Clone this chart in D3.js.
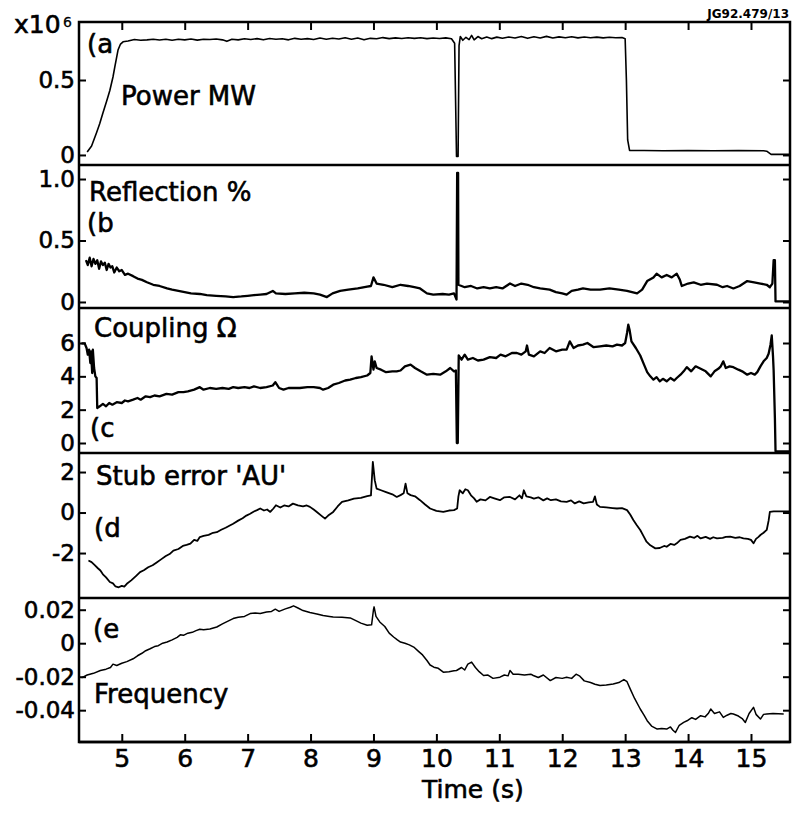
<!DOCTYPE html>
<html lang="en">
<head>
  <meta charset="UTF-8">
  <title>rf traces</title>
  <script src="https://d3js.org/d3.v7.min.js" charset="utf-8"></script>
  <style>
    body { margin: 0; background: #fff; }
    text { font-family: "DejaVu Sans", sans-serif; fill: #000; }
  </style>
</head>
<body>
</body>
<script>
  // time axis
  let timeDomain = [4.32, 15.62]
  let xTicks = [5, 6, 7, 8, 9, 10, 11, 12, 13, 14, 15]

  // (a) power, units of 1e6
  let powerData = [[4.45,0.02],[4.52,0.06],[4.60,0.15],[4.65,0.21],[4.70,0.28],[4.76,0.36],[4.81,0.43],[4.86,0.52],[4.89,0.59],[4.94,0.70],[4.98,0.74],[5.02,0.755],[5.1,0.76],[5.2,0.77],[5.3,0.765],[5.4,0.768],[5.5,0.772],[5.6,0.767],[5.7,0.772],[5.8,0.765],[5.9,0.772],[6.0,0.768],[6.1,0.774],[6.2,0.766],[6.3,0.772],[6.4,0.77],[6.5,0.774],[6.6,0.768],[6.67,0.758],[6.75,0.772],[6.85,0.768],[6.95,0.775],[7.05,0.77],[7.15,0.776],[7.25,0.768],[7.35,0.777],[7.45,0.772],[7.55,0.775],[7.65,0.768],[7.75,0.778],[7.85,0.772],[7.95,0.776],[8.05,0.77],[8.15,0.78],[8.25,0.772],[8.35,0.779],[8.45,0.774],[8.55,0.782],[8.65,0.772],[8.75,0.78],[8.85,0.768],[8.95,0.778],[9.05,0.775],[9.15,0.783],[9.25,0.776],[9.35,0.781],[9.45,0.777],[9.55,0.782],[9.65,0.778],[9.75,0.782],[9.85,0.776],[9.95,0.78],[10.05,0.777],[10.15,0.781],[10.24,0.775],[10.29,0.745],[10.32,-0.01],[10.345,-0.01],[10.36,0.73],[10.38,0.79],[10.42,0.765],[10.47,0.785],[10.52,0.77],[10.56,0.798],[10.6,0.768],[10.66,0.79],[10.72,0.775],[10.8,0.787],[10.88,0.776],[10.96,0.786],[11.05,0.779],[11.15,0.787],[11.25,0.78],[11.35,0.79],[11.45,0.778],[11.55,0.789],[11.65,0.78],[11.75,0.791],[11.85,0.78],[11.95,0.788],[12.05,0.782],[12.15,0.789],[12.25,0.781],[12.35,0.787],[12.45,0.782],[12.55,0.786],[12.65,0.781],[12.75,0.785],[12.85,0.782],[12.95,0.783],[13.0,0.775],[13.02,0.5],[13.04,0.1],[13.07,0.03],[13.3,0.03],[13.6,0.028],[14.0,0.03],[14.4,0.028],[14.8,0.029],[15.2,0.028],[15.25,0.025],[15.32,0.004],[15.62,0.004]]

  // (b) reflection %
  let reflectionData = [[4.43,0.34],[4.46,0.30],[4.49,0.36],[4.52,0.29],[4.55,0.35],[4.58,0.31],[4.61,0.34],[4.64,0.27],[4.67,0.33],[4.70,0.30],[4.73,0.32],[4.76,0.26],[4.79,0.31],[4.82,0.28],[4.85,0.29],[4.88,0.24],[4.92,0.28],[4.96,0.25],[5.0,0.26],[5.05,0.22],[5.1,0.23],[5.18,0.21],[5.25,0.19],[5.32,0.18],[5.4,0.16],[5.5,0.14],[5.6,0.13],[5.72,0.11],[5.8,0.10],[5.9,0.09],[6.0,0.08],[6.1,0.07],[6.24,0.065],[6.35,0.055],[6.5,0.05],[6.65,0.045],[6.77,0.04],[6.9,0.045],[7.0,0.05],[7.1,0.055],[7.2,0.06],[7.3,0.065],[7.4,0.09],[7.45,0.07],[7.6,0.065],[7.75,0.07],[7.9,0.075],[8.05,0.07],[8.15,0.06],[8.26,0.04],[8.35,0.07],[8.47,0.09],[8.6,0.1],[8.75,0.11],[8.9,0.125],[8.96,0.13],[9.0,0.2],[9.05,0.15],[9.16,0.14],[9.3,0.12],[9.43,0.14],[9.55,0.13],[9.65,0.12],[9.74,0.11],[9.85,0.07],[9.95,0.06],[10.1,0.065],[10.2,0.06],[10.28,0.07],[10.32,0.02],[10.33,1.05],[10.345,1.05],[10.35,0.14],[10.45,0.12],[10.55,0.13],[10.65,0.11],[10.75,0.12],[10.85,0.11],[10.95,0.12],[11.05,0.11],[11.17,0.15],[11.25,0.13],[11.35,0.15],[11.45,0.14],[11.55,0.12],[11.65,0.11],[11.8,0.1],[11.9,0.08],[12.0,0.07],[12.07,0.06],[12.15,0.09],[12.25,0.1],[12.33,0.11],[12.45,0.1],[12.6,0.1],[12.75,0.11],[12.9,0.1],[13.03,0.09],[13.19,0.07],[13.27,0.1],[13.35,0.17],[13.45,0.2],[13.5,0.23],[13.58,0.2],[13.66,0.22],[13.74,0.2],[13.82,0.23],[13.87,0.18],[13.9,0.13],[14.0,0.15],[14.09,0.16],[14.2,0.14],[14.3,0.15],[14.46,0.14],[14.55,0.12],[14.62,0.13],[14.72,0.11],[14.82,0.13],[14.94,0.17],[15.05,0.16],[15.15,0.15],[15.25,0.14],[15.3,0.12],[15.34,0.15],[15.36,0.34],[15.38,0.34],[15.39,0.005],[15.62,0.005]]

  // (c) coupling ohm
  let couplingData = [[4.36,5.98],[4.41,5.98],[4.44,5.7],[4.46,5.3],[4.48,5.6],[4.5,4.8],[4.51,5.5],[4.53,4.2],[4.54,5.6],[4.56,4.5],[4.58,4.0],[4.6,3.9],[4.61,2.1],[4.65,2.2],[4.7,2.35],[4.75,2.2],[4.8,2.4],[4.85,2.3],[4.92,2.45],[5.0,2.4],[5.05,2.55],[5.1,2.5],[5.18,2.6],[5.25,2.7],[5.3,2.6],[5.38,2.8],[5.45,2.75],[5.52,2.85],[5.6,2.8],[5.71,2.95],[5.8,2.9],[5.9,3.05],[5.98,3.05],[6.05,3.1],[6.15,3.2],[6.24,3.35],[6.3,3.2],[6.4,3.3],[6.5,3.25],[6.6,3.3],[6.7,3.25],[6.77,3.35],[6.85,3.3],[6.95,3.35],[7.03,3.3],[7.1,3.4],[7.2,3.3],[7.3,3.35],[7.4,3.45],[7.44,3.65],[7.5,3.3],[7.57,3.2],[7.65,3.3],[7.75,3.3],[7.83,3.3],[7.95,3.35],[8.05,3.35],[8.15,3.3],[8.2,3.2],[8.28,3.3],[8.36,3.5],[8.45,3.6],[8.55,3.75],[8.63,3.8],[8.72,3.9],[8.8,3.95],[8.9,4.05],[8.95,4.2],[8.97,5.2],[9.0,4.4],[9.02,4.9],[9.05,4.5],[9.12,4.4],[9.2,4.25],[9.3,4.3],[9.37,4.3],[9.43,4.35],[9.5,4.6],[9.59,4.7],[9.66,4.5],[9.75,4.3],[9.85,4.1],[9.95,4.15],[10.06,4.1],[10.15,4.3],[10.22,4.5],[10.28,4.3],[10.31,4.35],[10.325,0.0],[10.34,0.0],[10.355,5.25],[10.4,5.0],[10.45,5.3],[10.5,5.0],[10.58,5.1],[10.66,4.95],[10.75,5.0],[10.85,5.15],[10.95,5.1],[11.02,5.3],[11.1,5.2],[11.2,5.4],[11.28,5.4],[11.35,5.3],[11.42,5.5],[11.44,5.85],[11.47,5.3],[11.55,5.2],[11.65,5.5],[11.72,5.4],[11.8,5.7],[11.9,5.5],[12.0,5.6],[12.07,5.6],[12.12,6.1],[12.18,5.7],[12.25,5.85],[12.33,5.9],[12.4,6.0],[12.5,5.75],[12.6,5.8],[12.7,5.85],[12.8,5.8],[12.87,5.9],[12.95,5.85],[13.0,6.0],[13.03,6.6],[13.05,7.1],[13.07,6.8],[13.1,6.1],[13.17,5.7],[13.24,5.25],[13.3,4.7],[13.35,4.25],[13.4,4.0],[13.45,3.8],[13.5,3.95],[13.55,3.7],[13.6,3.85],[13.66,3.7],[13.72,3.9],[13.78,3.75],[13.82,3.9],[13.88,4.1],[13.93,4.3],[13.98,4.55],[14.05,4.3],[14.12,4.6],[14.2,4.45],[14.28,4.3],[14.36,4.0],[14.42,4.3],[14.48,4.45],[14.52,4.6],[14.56,4.9],[14.6,4.5],[14.66,4.6],[14.72,4.55],[14.8,4.4],[14.86,4.3],[14.94,4.1],[15.0,4.2],[15.06,4.1],[15.1,4.25],[15.15,4.6],[15.2,4.9],[15.25,5.1],[15.28,5.35],[15.31,5.9],[15.33,6.45],[15.35,5.2],[15.36,4.35],[15.38,1.5],[15.39,-0.5],[15.62,-0.5]]

  // (d) stub error
  let stubData = [[4.47,-2.37],[4.52,-2.45],[4.57,-2.6],[4.62,-2.75],[4.66,-2.86],[4.7,-3.05],[4.75,-3.2],[4.81,-3.43],[4.86,-3.5],[4.9,-3.65],[4.95,-3.69],[5.0,-3.62],[5.04,-3.66],[5.08,-3.52],[5.15,-3.35],[5.22,-3.15],[5.29,-2.94],[5.35,-2.85],[5.42,-2.7],[5.49,-2.6],[5.56,-2.45],[5.63,-2.3],[5.7,-2.15],[5.76,-2.05],[5.82,-1.88],[5.9,-1.8],[5.97,-1.65],[6.03,-1.6],[6.09,-1.54],[6.15,-1.35],[6.2,-1.4],[6.24,-1.21],[6.3,-1.15],[6.38,-1.1],[6.45,-1.0],[6.51,-0.97],[6.58,-0.85],[6.65,-0.75],[6.71,-0.65],[6.77,-0.55],[6.85,-0.4],[6.92,-0.28],[6.98,-0.15],[7.04,-0.06],[7.1,0.05],[7.15,0.12],[7.2,0.2],[7.26,0.1],[7.31,0.15],[7.36,0.03],[7.41,0.2],[7.45,0.36],[7.52,0.25],[7.58,0.35],[7.65,0.3],[7.72,0.44],[7.8,0.35],[7.88,0.3],[7.94,0.35],[7.99,0.28],[8.05,0.15],[8.1,0.03],[8.17,-0.15],[8.23,-0.3],[8.28,-0.15],[8.36,0.03],[8.43,0.3],[8.5,0.53],[8.6,0.6],[8.69,0.69],[8.8,0.72],[8.9,0.81],[8.96,0.85],[8.99,2.5],[9.02,1.6],[9.05,1.18],[9.12,1.1],[9.2,1.01],[9.3,0.9],[9.37,0.77],[9.43,0.86],[9.48,0.95],[9.51,1.43],[9.54,0.95],[9.59,0.86],[9.66,0.8],[9.74,0.61],[9.82,0.4],[9.9,0.2],[10.0,0.08],[10.11,0.03],[10.2,0.1],[10.28,0.12],[10.33,0.2],[10.35,0.8],[10.37,1.1],[10.42,0.95],[10.46,1.15],[10.5,1.1],[10.55,0.85],[10.6,0.7],[10.64,0.53],[10.7,0.65],[10.78,0.6],[10.85,0.77],[10.92,0.7],[11.01,0.61],[11.08,0.75],[11.17,0.77],[11.25,0.65],[11.32,0.85],[11.36,0.7],[11.39,1.1],[11.43,0.8],[11.5,0.75],[11.55,0.69],[11.62,0.75],[11.7,0.6],[11.76,0.7],[11.82,0.61],[11.9,0.65],[11.98,0.55],[12.07,0.53],[12.14,0.6],[12.2,0.45],[12.27,0.55],[12.34,0.45],[12.42,0.5],[12.49,0.53],[12.52,0.8],[12.55,0.4],[12.6,0.28],[12.7,0.25],[12.8,0.22],[12.87,0.2],[12.95,0.22],[13.03,0.12],[13.08,-0.1],[13.13,-0.37],[13.18,-0.6],[13.24,-0.86],[13.29,-1.15],[13.34,-1.44],[13.4,-1.62],[13.48,-1.77],[13.55,-1.75],[13.62,-1.65],[13.66,-1.69],[13.72,-1.55],[13.78,-1.6],[13.82,-1.52],[13.88,-1.35],[13.95,-1.3],[14.03,-1.19],[14.1,-1.25],[14.15,-1.15],[14.2,-1.28],[14.28,-1.2],[14.35,-1.3],[14.4,-1.22],[14.46,-1.28],[14.55,-1.25],[14.6,-1.2],[14.67,-1.19],[14.75,-1.25],[14.82,-1.22],[14.88,-1.28],[14.95,-1.3],[15.0,-1.35],[15.04,-1.52],[15.08,-1.3],[15.12,-1.2],[15.15,-1.11],[15.2,-1.0],[15.25,-0.86],[15.28,-0.4],[15.3,0.03],[15.36,0.06],[15.62,0.06]]

  // (e) frequency
  let freqData = [[4.36,-0.0207],[4.45,-0.019],[4.55,-0.018],[4.66,-0.0163],[4.75,-0.0155],[4.82,-0.0145],[4.86,-0.0125],[4.92,-0.0133],[5.0,-0.012],[5.08,-0.011],[5.18,-0.0093],[5.25,-0.0075],[5.32,-0.006],[5.38,-0.0045],[5.45,-0.0033],[5.52,-0.002],[5.58,-0.0015],[5.65,0.0],[5.72,0.0007],[5.8,0.002],[5.88,0.0035],[5.93,0.005],[5.98,0.0047],[6.05,0.006],[6.12,0.0065],[6.18,0.0075],[6.24,0.0083],[6.3,0.008],[6.4,0.0085],[6.51,0.0097],[6.6,0.0115],[6.68,0.013],[6.77,0.0147],[6.85,0.0155],[6.95,0.016],[7.04,0.0177],[7.12,0.018],[7.2,0.0178],[7.3,0.0187],[7.38,0.019],[7.44,0.0203],[7.5,0.019],[7.6,0.0205],[7.68,0.0215],[7.73,0.0223],[7.8,0.021],[7.88,0.0195],[7.99,0.0183],[8.1,0.0175],[8.2,0.0165],[8.3,0.016],[8.36,0.0157],[8.5,0.0155],[8.63,0.0151],[8.72,0.0135],[8.8,0.012],[8.9,0.0107],[8.97,0.011],[9.0,0.02],[9.01,0.0217],[9.04,0.016],[9.1,0.0127],[9.18,0.01],[9.25,0.006],[9.32,0.0037],[9.38,0.002],[9.43,0.0007],[9.5,0.0],[9.57,-0.001],[9.64,-0.0023],[9.72,-0.005],[9.78,-0.007],[9.85,-0.0103],[9.9,-0.013],[9.96,-0.0143],[10.03,-0.015],[10.11,-0.0173],[10.2,-0.017],[10.28,-0.0165],[10.32,-0.0163],[10.4,-0.0145],[10.45,-0.016],[10.5,-0.0125],[10.56,-0.0113],[10.62,-0.0145],[10.68,-0.017],[10.75,-0.0193],[10.82,-0.019],[10.9,-0.021],[11.01,-0.0203],[11.08,-0.019],[11.14,-0.0195],[11.17,-0.0163],[11.22,-0.0185],[11.3,-0.0185],[11.4,-0.019],[11.5,-0.0185],[11.54,-0.0193],[11.62,-0.0205],[11.7,-0.019],[11.81,-0.0223],[11.9,-0.0205],[12.0,-0.021],[12.07,-0.0203],[12.15,-0.021],[12.22,-0.0185],[12.28,-0.0197],[12.35,-0.0225],[12.45,-0.0235],[12.52,-0.0245],[12.6,-0.0253],[12.7,-0.025],[12.81,-0.0243],[12.9,-0.0235],[12.98,-0.0217],[13.03,-0.023],[13.08,-0.0273],[13.15,-0.033],[13.24,-0.0393],[13.3,-0.043],[13.35,-0.0463],[13.42,-0.0495],[13.51,-0.0513],[13.58,-0.051],[13.66,-0.0513],[13.72,-0.05],[13.76,-0.052],[13.8,-0.0533],[13.86,-0.049],[13.93,-0.0473],[14.0,-0.046],[14.06,-0.0445],[14.12,-0.0455],[14.2,-0.0433],[14.27,-0.044],[14.32,-0.042],[14.36,-0.0393],[14.42,-0.042],[14.5,-0.041],[14.56,-0.0443],[14.62,-0.043],[14.68,-0.042],[14.72,-0.0423],[14.8,-0.0435],[14.86,-0.045],[14.91,-0.0473],[14.97,-0.042],[15.04,-0.0383],[15.08,-0.0425],[15.15,-0.0453],[15.2,-0.0425],[15.25,-0.0423],[15.35,-0.042],[15.52,-0.0423]]

  // y tick values and their printed labels
  let powerTicks = [0, 0.5], powerLabels = ['0', '0.5']
  let reflTicks = [0, 0.5, 1.0], reflLabels = ['0', '0.5', '1.0']
  let coupTicks = [0, 2, 4, 6], coupLabels = ['0', '2', '4', '6']
  let stubTicks = [-2, 0, 2], stubLabels = ['-2', '0', '2']
  let freqTicks = [-0.04, -0.02, 0, 0.02], freqLabels = ['-0.04', '-0.02', '0', '0.02']

  var left = 79, right = 790
  var panels = [
    {data: powerData, top: 22, bottom: 165, domain: [-0.067, 0.887], ticks: powerTicks, labels: powerLabels, sw: 1.6},
    {data: reflectionData, top: 165, bottom: 308, domain: [-0.049, 1.114], ticks: reflTicks, labels: reflLabels, sw: 2.3},
    {data: couplingData, top: 308, bottom: 453, domain: [-0.6, 8.1], ticks: coupTicks, labels: coupLabels, sw: 2.3},
    {data: stubData, top: 453, bottom: 598, domain: [-4.22, 2.94], ticks: stubTicks, labels: stubLabels, sw: 1.8},
    {data: freqData, top: 598, bottom: 742, domain: [-0.059, 0.027], ticks: freqTicks, labels: freqLabels, sw: 1.5}
  ]

  var svg = d3.select('body').append('svg').attr('width', 792).attr('height', 814)
  svg.append('rect').attr('width', 792).attr('height', 814).attr('fill', '#fff')

  var x = d3.scaleLinear().domain(timeDomain).range([left, right])

  function styleAxis(g, size) {
    g.select('.domain').remove()
    g.selectAll('line').attr('stroke', '#000').attr('stroke-width', 2)
    g.selectAll('text').attr('font-size', size).attr('font-family', '"DejaVu Sans", sans-serif')
      .attr('fill', '#000').attr('stroke', '#000').attr('stroke-width', 0.6)
  }

  panels.forEach(function(p) {
    var y = d3.scaleLinear().domain(p.domain).range([p.bottom, p.top])
    svg.append('g').attr('transform', 'translate(' + left + ',0)')
      .call(d3.axisLeft(y).tickValues(p.ticks).tickFormat((d, i) => p.labels[i]).tickSize(-7).tickSizeOuter(0).tickPadding(4))
      .call(g => styleAxis(g, 23))
    svg.append('g').attr('transform', 'translate(' + right + ',0)')
      .call(d3.axisRight(y).tickValues(p.ticks).tickFormat('').tickSize(-7).tickSizeOuter(0))
      .call(g => styleAxis(g, 23))

    var line = d3.line().x(d => x(d[0])).y(d => y(d[1]))
    svg.append('path').datum(p.data)
      .attr('d', line)
      .attr('fill', 'none')
      .attr('stroke', '#000')
      .attr('stroke-width', p.sw)
      .attr('stroke-linejoin', 'round')

    svg.append('line').attr('x1', left).attr('x2', right).attr('y1', p.bottom).attr('y2', p.bottom)
      .attr('stroke', '#000').attr('stroke-width', 2.5)
  })

  // top and bottom time axes, ticks pointing inward
  svg.append('g').attr('transform', 'translate(0,22)')
    .call(d3.axisTop(x).tickValues(xTicks).tickFormat('').tickSize(-8).tickSizeOuter(0))
    .call(g => styleAxis(g, 24))
  svg.append('g').attr('transform', 'translate(0,742)')
    .call(d3.axisBottom(x).tickValues(xTicks).tickFormat(d3.format('d')).tickSize(-8).tickSizeOuter(0).tickPadding(7))
    .call(g => styleAxis(g, 25))

  // frame
  svg.append('rect').attr('x', left).attr('y', 22).attr('width', right - left).attr('height', 742 - 22)
    .attr('fill', 'none').attr('stroke', '#000').attr('stroke-width', 2.5)

  // labels
  var labels = [
    ['x10', 14, 33, 25], ['(a', 87, 53, 26], ['Power MW', 121, 105, 26],
    ['Reflection %', 89, 201, 26], ['(b', 87, 232, 26],
    ['Coupling Ω', 94, 337, 26], ['(c', 90, 437, 26],
    ["Stub error 'AU'", 96, 485, 26], ['(d', 94, 537, 26],
    ['(e', 93, 638, 26], ['Frequency', 94, 703, 26],
    ['Time (s)', 422, 798, 25]
  ]
  svg.selectAll('text.lbl').data(labels).enter().append('text')
    .attr('class', 'lbl')
    .attr('x', d => d[1]).attr('y', d => d[2])
    .attr('font-size', d => d[3])
    .attr('stroke', '#000').attr('stroke-width', 0.6)
    .text(d => d[0])
  svg.append('text').attr('x', 63).attr('y', 27).attr('font-size', 14).attr('stroke', '#000').attr('stroke-width', 0.3).text('6')
  svg.append('text').attr('x', 789).attr('y', 18).attr('text-anchor', 'end').attr('font-size', 12).attr('font-weight', 'bold').text('JG92.479/13')
</script>
</html>
